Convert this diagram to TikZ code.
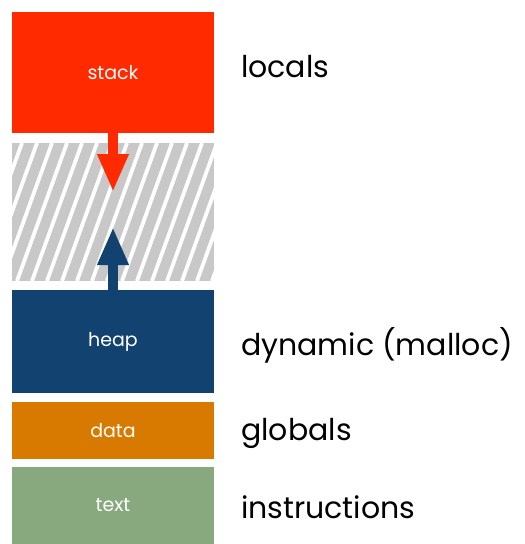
\documentclass[tikz,border=0pt]{standalone}
\usepackage{fontspec}
\setmainfont{Poppins}
\usetikzlibrary{arrows.meta}
\definecolor{stackred}{RGB}{255,42,0}
\definecolor{heapblue}{RGB}{18,67,112}
\definecolor{dataorange}{RGB}{217,122,0}
\definecolor{textgreen}{RGB}{136,169,125}
\definecolor{freegray}{RGB}{200,200,200}
\tikzset{
  segment/.style={rectangle, inner sep=0pt, minimum width=202pt, text=white, font=\fontsize{19}{23}\selectfont},
  role/.style={anchor=base west, inner sep=0pt, font=\fontsize{30}{36}\selectfont},
  growth/.style={line width=10pt, -{Triangle[width=29pt,length=38pt]}},
}
\begin{document}
\begin{tikzpicture}[x=1pt,y=-1pt]
  \useasboundingbox (0,0) rectangle (525,544);
  % memory segments
  \node[segment, fill=stackred,   minimum height=121pt] (stack) at (113,72.5)  {stack};
  \node[segment, fill=heapblue,   minimum height=103pt] (heap)  at (113,341.5) {heap};
  \node[segment, fill=dataorange, minimum height=57pt]  (data)  at (113,430.5) {data};
  \node[segment, fill=textgreen,  minimum height=77pt]  (text)  at (113,505.5) {text};
  % unused region between stack and heap
  \fill[freegray] (12,143) rectangle (214,281);
  \begin{scope}
    \clip (12,143) rectangle (214,281);
    \foreach \k in {0,...,17}
      \draw[white, line width=3.8pt] ({-28+15*\k},281) -- ({22+15*\k},143);
  \end{scope}
  % growth directions
  \coordinate (stacktip) at (113,192);
  \coordinate (heaptip)  at (113,227);
  \draw[growth, stackred] (stack.south) -- (stacktip);
  \draw[growth, heapblue] (heap.north) -- (heaptip);
  % roles
  \node[role] (locals)  at (241,77)  {locals};
  \node[role] (dynamic) at (241,355) {dynamic (malloc)};
  \node[role] (globals) at (241,440) {globals};
  \node[role] (instr)   at (241,518) {instructions};
\end{tikzpicture}
\end{document}
